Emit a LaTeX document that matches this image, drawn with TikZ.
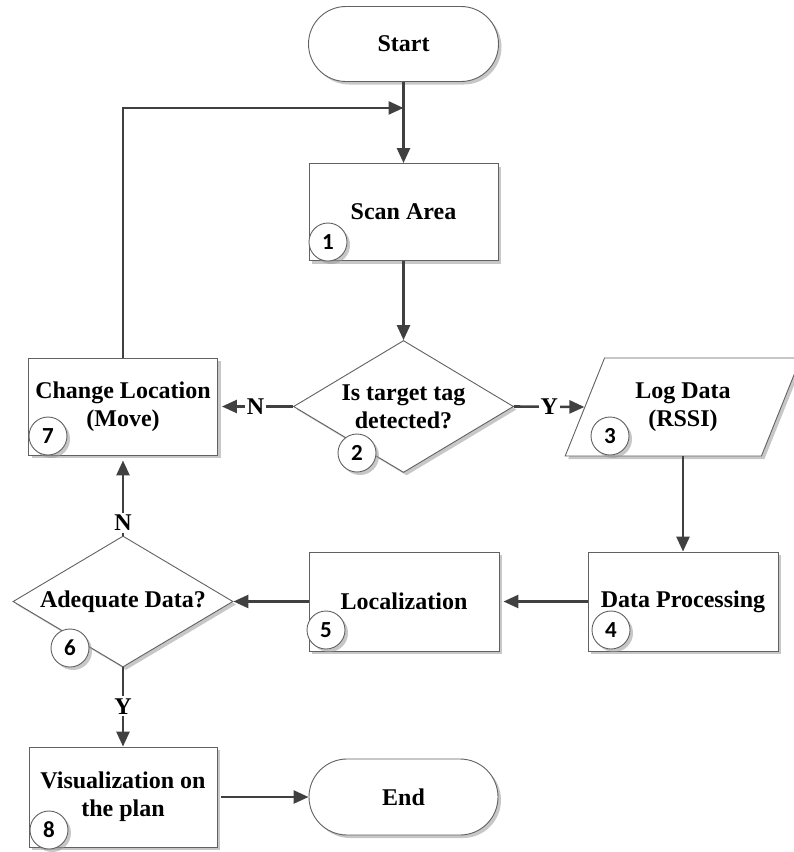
\documentclass[tikz,border=0pt]{standalone}
\usepackage{fontspec}
\setmainfont{Liberation Serif}
\newfontfamily\badgefont{Carlito}
\usetikzlibrary{shapes.geometric,shapes.misc,arrows.meta,shadows,calc}

\tikzset{
  stepfont/.style={font=\fontsize{24}{28}\selectfont\bfseries},
  base/.style={draw=black!62, line width=0.9pt, fill=white,
    drop shadow={shadow xshift=3pt, shadow yshift=-3pt, fill=black!40, opacity=.55},
    stepfont, align=center, inner sep=0pt},
  term/.style={base, rounded rectangle, rounded rectangle arc length=180,
    minimum width=190pt, minimum height=75pt},
  proc/.style={base, rectangle, minimum width=189pt, minimum height=97pt},
  dec/.style={base, diamond, minimum width=220pt, minimum height=132pt},
  dectext/.style={stepfont, align=center, inner sep=0pt},
  io/.style={base, trapezium, trapezium left angle=63.9, trapezium right angle=116.1,
    trapezium stretches=true, minimum width=236pt, minimum height=98pt},
  badge/.style={base, circle, minimum size=38pt,
    font=\fontsize{23}{23}\selectfont\badgefont\bfseries},
  flow/.style={draw=black!75, line width=2.6pt, -{Triangle[length=15pt,width=13pt]}},
  yn/.style={fill=white, inner sep=2pt, stepfont},
}

\begin{document}
\begin{tikzpicture}[x=1pt, y=1pt]
  \useasboundingbox (0,0) rectangle (794,-852);

  % flowchart steps
  \node[term] (start) at (403.5,-44)   {Start};
  \node[proc] (scan)  at (403.5,-212)  {Scan Area};
  \node[dec, label={[dectext]center:{Is target tag\\detected?}}] (tag) at (403.5,-406.5) {};
  \node[proc] (move)  at (123,-406.5)  {Change Location\\(Move)};
  \node[io]   (log)   at (683,-407)    {Log Data\\(RSSI)};
  \node[proc, minimum width=190pt, minimum height=99pt] (proc) at (683,-601.5) {Data Processing};
  \node[proc, minimum width=190pt, minimum height=99pt] (loc)  at (404,-601.5) {Localization};
  \node[dec, minimum height=131pt, label={[dectext]center:{Adequate Data?}}] (adq) at (123,-601.5) {};
  \node[proc, minimum width=188pt, minimum height=100pt] (vis) at (123,-797) {Visualization on\\the plan};
  \node[term, minimum width=189pt, minimum height=76pt] (end) at (403.5,-797) {End};

  % step numbers
  \node[badge] (n1) at (328,-242) {1};
  \node[badge] (n2) at (357,-453) {2};
  \node[badge] (n3) at (610,-436) {3};
  \node[badge] (n4) at (611,-630) {4};
  \node[badge] (n5) at (326,-630) {5};
  \node[badge] (n6) at (70,-648)  {6};
  \node[badge] (n7) at (48,-436)  {7};
  \node[badge] (n8) at (49,-830)  {8};

  % connectors
  \coordinate (join) at ($(start.south)+(0,-26)$);
  \draw[flow] (start.south) -- (scan.north);
  \draw[flow] (scan.south) -- (tag.north);
  \draw[flow, shorten >=4pt] (tag.west) -- node[yn] (lblN1) {N} (move.east);
  \draw[flow] (tag.east) -- node[yn] (lblY1) {Y} (log.left side);
  \draw[flow] (log.south -| proc.north) -- (proc.north);
  \draw[flow, shorten >=4pt] (proc.west) -- (loc.east);
  \draw[flow] (loc.west) -- (adq.east);
  \draw[flow, shorten >=5pt] (adq.north) -- node[yn, pos=0.16] (lblN2) {N} (move.south);
  \draw[flow] (adq.south) -- node[yn, pos=0.49] (lblY2) {Y} (vis.north);
  \draw[flow, shorten <=4pt] (vis.east) -- (end.west);
  \draw[flow] (move.north) |- (join);
\end{tikzpicture}
\end{document}
